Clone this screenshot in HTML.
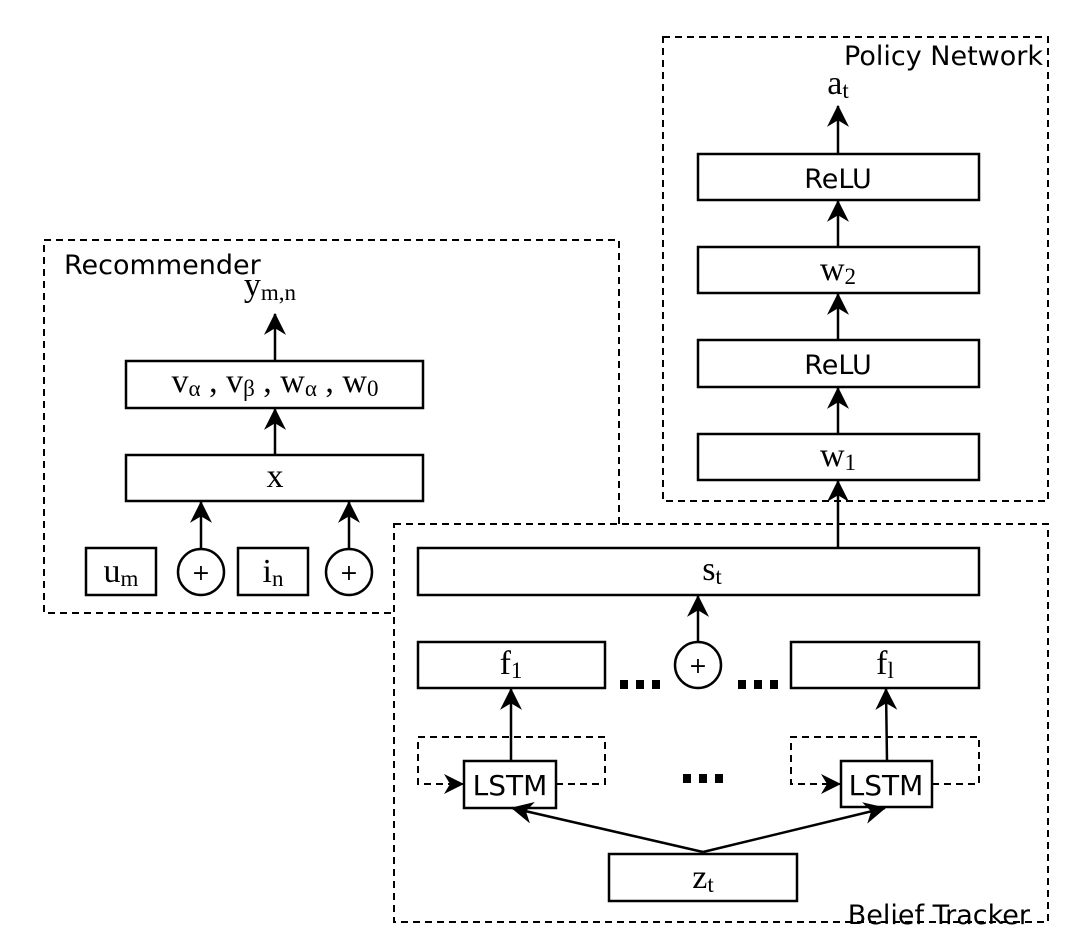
<!DOCTYPE html>
<html><head><style>
html,body{margin:0;padding:0;background:#fff;}
svg{display:block;}
.s{font-family:"DejaVu Sans","Liberation Sans",sans-serif;}
.m{font-family:"Liberation Serif",serif;}
</style></head><body>
<svg width="1080" height="949" viewBox="0 0 1080 949" xmlns="http://www.w3.org/2000/svg">
<defs>
<marker id="a" viewBox="0 0 20 20" refX="19" refY="10" markerWidth="24" markerHeight="22" markerUnits="userSpaceOnUse" orient="auto">
<path d="M0,0 L20,10 L0,20 L6,10 Z" fill="#000"/>
</marker>
<marker id="b" viewBox="0 0 20 20" refX="19" refY="10" markerWidth="20" markerHeight="20" markerUnits="userSpaceOnUse" orient="auto">
<path d="M0,0 L20,10 L0,20 L6,10 Z" fill="#000"/>
</marker>
</defs>
<g fill="none" stroke="#000" stroke-width="2" stroke-dasharray="7,5">
<rect x="44" y="240" width="575" height="373"/>
<rect x="663" y="37" width="385" height="464" fill="#fff"/>
<rect x="394" y="524" width="654" height="398" fill="#fff"/>
</g>
<g class="s" font-size="27" fill="#000">
<text x="64" y="274">Recommender</text>
<text x="1043" y="65" text-anchor="end">Policy Network</text>
<text x="1030" y="924" text-anchor="end">Belief Tracker</text>
</g>
<g fill="#fff" stroke="#000" stroke-width="2.5">
<rect x="126" y="361" width="297" height="47"/>
<rect x="126" y="455" width="297" height="46"/>
<rect x="86" y="548" width="70" height="47"/>
<rect x="238" y="548" width="70" height="47"/>
<circle cx="201" cy="572" r="23"/>
<circle cx="349" cy="572" r="23"/>
<rect x="698" y="154" width="281" height="46"/>
<rect x="698" y="247" width="281" height="46"/>
<rect x="698" y="340" width="281" height="47"/>
<rect x="698" y="434" width="281" height="46"/>
<rect x="418" y="548" width="561" height="47"/>
<rect x="418" y="642" width="187" height="46"/>
<rect x="791" y="642" width="188" height="46"/>
<circle cx="698" cy="665" r="23"/>
<rect x="609" y="854" width="188" height="47"/>
</g>
<g fill="none" stroke="#000" stroke-width="2" stroke-dasharray="7,5">
<path d="M556,784 H605 V737 H418 V784 H463" marker-end="url(#b)"/>
<path d="M932,784 H979 V737 H791 V784 H840" marker-end="url(#b)"/>
</g>
<g fill="#fff" stroke="#000" stroke-width="2.5">
<rect x="464" y="761" width="92" height="47"/>
<rect x="841" y="761" width="91" height="46"/>
</g>
<g stroke="#000" stroke-width="2.5" fill="none" marker-end="url(#a)">
<line x1="275" y1="361" x2="275" y2="314"/>
<line x1="275" y1="455" x2="275" y2="409"/>
<line x1="201" y1="549" x2="201" y2="502"/>
<line x1="349" y1="549" x2="349" y2="502"/>
<line x1="838" y1="154" x2="838" y2="106"/>
<line x1="838" y1="247" x2="838" y2="201"/>
<line x1="838" y1="340" x2="838" y2="294"/>
<line x1="838" y1="434" x2="838" y2="388"/>
<line x1="838" y1="548" x2="838" y2="481"/>
<line x1="698" y1="642" x2="698" y2="596"/>
<line x1="511" y1="761" x2="511" y2="689"/>
<line x1="887" y1="761" x2="886" y2="689"/>
<line x1="703" y1="852" x2="512" y2="808"/>
<line x1="703" y1="852" x2="885" y2="808"/>
</g>
<g class="m" fill="#000" text-anchor="middle">
<text x="270" y="296" font-size="34">y<tspan font-size="23" dy="4">m,n</tspan></text>
<text x="275" y="392" font-size="34">v<tspan font-size="23" dy="4">α</tspan><tspan dy="-4"> , v</tspan><tspan font-size="23" dy="4">β</tspan><tspan dy="-4"> , w</tspan><tspan font-size="23" dy="4">α</tspan><tspan dy="-4"> , w</tspan><tspan font-size="23" dy="4">0</tspan></text>
<text x="275" y="487" font-size="34">x</text>
<text x="121" y="582" font-size="34">u<tspan font-size="23" dy="4">m</tspan></text>
<text x="273" y="582" font-size="34">i<tspan font-size="23" dy="4">n</tspan></text>
<text x="838" y="94" font-size="34">a<tspan font-size="23" dy="4">t</tspan></text>
<text x="838" y="280" font-size="34">w<tspan font-size="23" dy="4">2</tspan></text>
<text x="838" y="466" font-size="34">w<tspan font-size="23" dy="4">1</tspan></text>
<text x="712" y="580" font-size="34">s<tspan font-size="23" dy="4">t</tspan></text>
<text x="511" y="674" font-size="34">f<tspan font-size="23" dy="4">1</tspan></text>
<text x="885" y="674" font-size="34">f<tspan font-size="23" dy="4">l</tspan></text>
<text x="703" y="888" font-size="34">z<tspan font-size="23" dy="4">t</tspan></text>
</g>
<g class="s" fill="#000" text-anchor="middle">
<text x="838" y="188" font-size="27">ReLU</text>
<text x="838" y="374" font-size="27">ReLU</text>
<text x="510" y="795" font-size="28">LSTM</text>
<text x="886" y="795" font-size="28">LSTM</text>
<text x="201" y="580" font-size="22">+</text>
<text x="349" y="580" font-size="22">+</text>
<text x="698" y="673" font-size="22">+</text>
</g>
<g fill="#000">
<rect x="620" y="680" width="8" height="9"/><rect x="636" y="680" width="8" height="9"/><rect x="652" y="680" width="8" height="9"/>
<rect x="738" y="680" width="8" height="9"/><rect x="754" y="680" width="8" height="9"/><rect x="770" y="680" width="8" height="9"/>
<rect x="683" y="774" width="8" height="9"/><rect x="699" y="774" width="8" height="9"/><rect x="715" y="774" width="8" height="9"/>
</g>
</svg>
</body></html>
